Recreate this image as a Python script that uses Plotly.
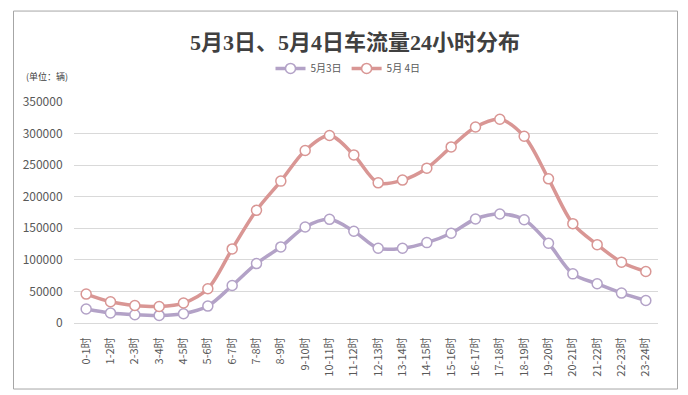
import plotly.graph_objects as go

categories = ["0-1时", "1-2时", "2-3时", "3-4时", "4-5时", "5-6时", "6-7时", "7-8时",
              "8-9时", "9-10时", "10-11时", "11-12时", "12-13时", "13-14时", "14-15时",
              "15-16时", "16-17时", "17-18时", "18-19时", "19-20时", "20-21时", "21-22时",
              "22-23时", "23-24时"]
may3 = [22100, 15800, 13100, 12000, 14700, 26800, 59400, 94100, 120500, 152100, 164200,
        145300, 118400, 118400, 127300, 142100, 164700, 172600, 163600, 126300, 77800,
        62100, 47400, 35700]
may4 = [45800, 33600, 27800, 26200, 31600, 54200, 117300, 178400, 224700, 273200, 296900,
        266200, 222000, 226300, 245200, 278900, 310400, 322600, 295700, 228300, 157300,
        124100, 96300, 81500]
series_names = ["5月3日", "5月 4日"]
y_ticks = [0, 50000, 100000, 150000, 200000, 250000, 300000, 350000]

colors = ["#B3A2C7", "#D99694"]

fig = go.Figure()
for name, vals, c in zip(series_names, [may3, may4], colors):
    fig.add_trace(go.Scatter(
        x=categories, y=vals, name=name, mode="lines+markers",
        line=dict(color=c, width=3.5, shape="spline", smoothing=0.9),
        marker=dict(symbol="circle", size=10, color="white", line=dict(color=c, width=1.5)),
    ))

# page body has an 8px margin; work in window pixels and shift
OFF = 8
W, H = 688 - OFF, 395 - OFF
L, R, T, B = 74 - OFF, 658 - OFF, 101.7 - OFF, 323.3 - OFF
pw, ph = R - L, B - T

def px_x(x):
    return (x - OFF - L) / pw

def px_y(y):
    return (B - (y - OFF)) / ph

fig.update_layout(
    width=W, height=H,
    margin=dict(l=L, r=W - R, t=T, b=H - B, autoexpand=False),
    paper_bgcolor="white", plot_bgcolor="white",
    font=dict(family="Noto Sans CJK SC, Microsoft YaHei, sans-serif", color="#595959"),
    title=dict(text="<b>5月3日、5月4日车流量24小时分布</b>",
               font=dict(family="Liberation Serif, Noto Sans CJK SC, serif", size=22, color="#404040"),
               x=(355 - OFF) / W, xanchor="center", y=1 - (42 - OFF) / H, yanchor="middle"),
    showlegend=True,
    legend=dict(orientation="h", x=px_x(348), xanchor="center", y=px_y(68), yanchor="middle",
                font=dict(size=10, color="#595959"), itemwidth=30, tracegroupgap=0,
                bgcolor="rgba(0,0,0,0)"),
    xaxis=dict(type="category", range=[-0.5, 23.5], showgrid=False, tickangle=-90,
               tickfont=dict(size=11, color="#595959"), ticks="outside", ticklen=9,
               tickcolor="rgba(0,0,0,0)", showline=False, fixedrange=True),
    yaxis=dict(range=[0, 350000], tickvals=y_ticks, ticktext=[str(v) for v in y_ticks],
               showgrid=True, gridcolor="#D9D9D9", gridwidth=1, zeroline=True,
               zerolinecolor="#D9D9D9", zerolinewidth=1,
               tickfont=dict(size=12, color="#595959"), ticks="outside", ticklen=8,
               tickcolor="rgba(0,0,0,0)", showline=False),
    shapes=[dict(type="rect", xref="paper", yref="paper",
                 x0=px_x(13.5), x1=px_x(677.5), y0=px_y(389.5), y1=px_y(10.5),
                 line=dict(color="#A6A6A6", width=1), fillcolor="rgba(0,0,0,0)", layer="below")],
    annotations=[dict(text="(单位：辆)", xref="paper", yref="paper", x=px_x(24), y=px_y(76),
                      xanchor="left", yanchor="middle", showarrow=False,
                      font=dict(size=9, color="#404040"))],
)

fig.write_html("out.html")
